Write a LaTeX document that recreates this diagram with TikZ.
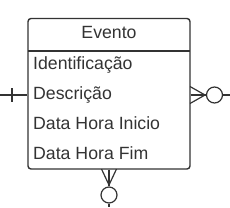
\documentclass[tikz,border=0pt]{standalone}
\usepackage{fontspec}
\setmainfont{Liberation Sans}
\usetikzlibrary{positioning,calc}
\definecolor{erline}{HTML}{333333}

\begin{document}
\begin{tikzpicture}[
  x=1pt, y=-1pt,
  ent/.style={draw=erline, line width=1.4pt, rounded corners=3pt,
              minimum width=162pt, minimum height=150.5pt, inner sep=0pt},
  attr/.style={anchor=base west, inner sep=0pt, text=erline,
               font=\fontsize{17.7}{20}\selectfont},
  link/.style={draw=erline, line width=1.2pt},
  opt/.style={circle, draw=erline, line width=1.2pt, fill=white,
              minimum size=16pt, inner sep=0pt}]

\useasboundingbox (0,0) rectangle (230,207);

% ================= the entity =============================================
\node[ent] (evento) at (109,93.75) {};
\coordinate (sepl) at (28,51);
\coordinate (sepr) at (190,51);
\draw[erline, line width=1.4pt] (sepl) -- (sepr);

\node[attr, anchor=base] (titulo) at (109,38.5) {Evento};
\node[attr] (ident) at (33,69)  {Identificação};
\node[attr] (desc)  at (33,99)  {Descrição};
\node[attr] (ini)   at (33,129) {Data Hora Inicio};
\node[attr] (fim)   at (33,159) {Data Hora Fim};

% ================= left: exactly one ======================================
\coordinate (lend) at (0,95);
\draw[link] (lend) -- (evento.west |- lend);
\draw[link] (12,88) -- (12,102);

% ================= right: zero or many ====================================
\node[opt] (ropt) at (214.5,95) {};
\coordinate (rtip) at (205,95);
\coordinate (rend) at (230,95);
\draw[link] (evento.east |- ropt) -- (ropt.west);
\draw[link] (ropt.east) -- (rend);
\draw[link] (190,86.5) -- (rtip) -- (190,103.5);

% ================= bottom: zero or many ===================================
\node[opt] (bopt) at (109,195) {};
\coordinate (btip) at (109,185);
\coordinate (bend) at (109,207);
\draw[link] (evento.south -| bopt) -- (bopt.north);
\draw[link] (bopt.south) -- (bend);
\draw[link] (101.5,169) -- (btip) -- (116.5,169);

\end{tikzpicture}
\end{document}
